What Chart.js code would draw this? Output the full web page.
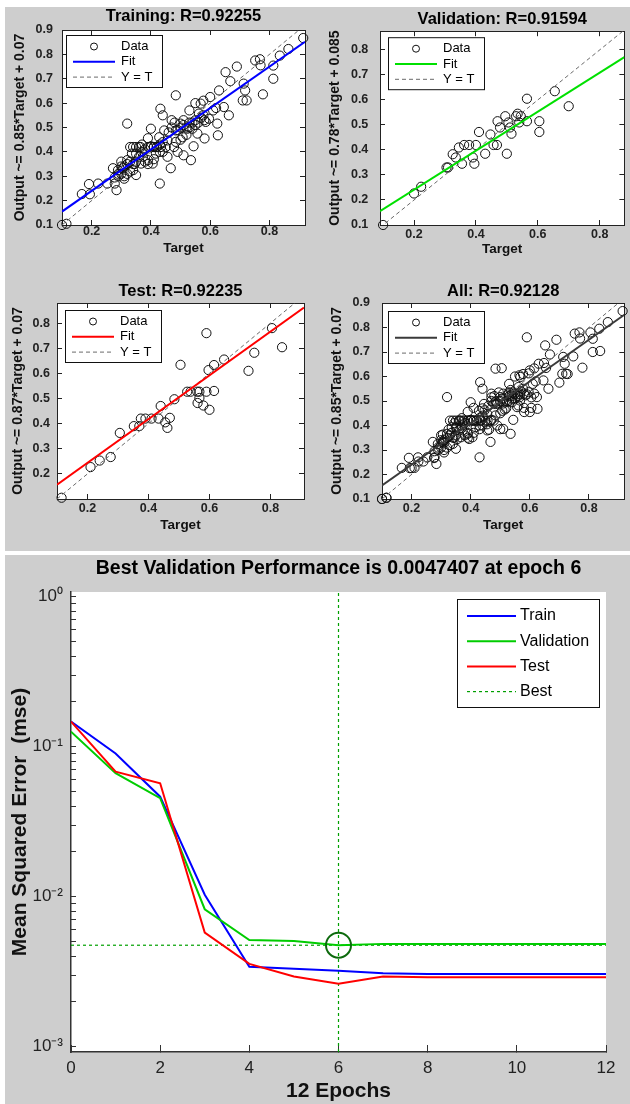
<!DOCTYPE html>
<html>
<head>
<meta charset="utf-8">
<script src="https://cdn.jsdelivr.net/npm/chart.js@4.4.1/dist/chart.umd.min.js"></script>
<style>
  html, body { margin: 0; padding: 0; background: #fff; }
  body { width: 630px; height: 1104px; position: relative; overflow: hidden; }
  .panel { position: absolute; background: #cecece; }
  canvas { position: absolute; }
</style>
</head>
<body>
<div class="panel" style="left:5px;top:7px;width:625px;height:544px"></div>
<div class="panel" style="left:5px;top:555px;width:625px;height:549px"></div>
<canvas id="cTrain" width="310" height="265" style="left:5px;top:7px"></canvas>
<canvas id="cVal" width="315" height="265" style="left:315px;top:7px"></canvas>
<canvas id="cTest" width="310" height="270" style="left:5px;top:276px"></canvas>
<canvas id="cAll" width="315" height="270" style="left:315px;top:276px"></canvas>
<canvas id="cPerf" width="625" height="549" style="left:5px;top:555px"></canvas>
<script>
// ---- regression data: [target, output] ----
const trainData = [
  [0.10,0.10],[0.115,0.105],[0.167,0.227],[0.194,0.226],[0.191,0.268],[0.222,0.27],[0.253,0.27],
  [0.278,0.27],[0.284,0.243],[0.278,0.295],[0.272,0.333],[0.289,0.325],[0.306,0.333],[0.29,0.30],
  [0.31,0.30],[0.32,0.31],[0.30,0.36],[0.32,0.366],[0.32,0.516],[0.33,0.42],[0.34,0.42],[0.336,0.393],
  [0.35,0.393],[0.345,0.35],[0.34,0.325],[0.35,0.305],[0.367,0.352],[0.365,0.42],[0.373,0.38],
  [0.39,0.366],[0.39,0.456],[0.40,0.495],[0.40,0.423],[0.406,0.352],[0.41,0.42],[0.42,0.42],
  [0.434,0.42],[0.417,0.393],[0.428,0.46],[0.432,0.577],[0.44,0.55],[0.43,0.27],[0.445,0.488],
  [0.456,0.447],[0.456,0.38],[0.467,0.333],[0.47,0.53],[0.484,0.488],[0.484,0.632],[0.484,0.441],
  [0.478,0.42],[0.49,0.40],[0.50,0.516],[0.507,0.46],[0.51,0.386],[0.523,0.495],[0.53,0.57],
  [0.535,0.366],[0.544,0.423],[0.54,0.495],[0.55,0.53],[0.557,0.475],[0.562,0.557],[0.568,0.598],
  [0.577,0.61],[0.577,0.55],[0.585,0.523],[0.581,0.455],[0.596,0.536],[0.60,0.625],[0.61,0.57],
  [0.62,0.58],[0.624,0.516],[0.626,0.468],[0.63,0.652],[0.646,0.584],[0.652,0.727],[0.663,0.55],
  [0.668,0.69],[0.69,0.75],[0.713,0.68],[0.718,0.652],[0.723,0.611],[0.71,0.611],[0.752,0.775],
  [0.768,0.78],[0.77,0.755],[0.778,0.636],[0.813,0.754],[0.813,0.70],[0.835,0.795],[0.864,0.822],
  [0.914,0.867],
  [0.30,0.31],[0.31,0.34],[0.32,0.35],[0.33,0.36],[0.34,0.35],[0.35,0.36],[0.36,0.38],[0.37,0.40],
  [0.38,0.41],[0.39,0.42],[0.40,0.42],[0.41,0.42],[0.42,0.42],[0.43,0.43],[0.44,0.44],[0.33,0.32],
  [0.31,0.29],[0.29,0.31],[0.30,0.34],[0.38,0.36],[0.39,0.35],[0.36,0.42],[0.37,0.43],[0.35,0.42],
  [0.44,0.40],[0.45,0.42],[0.47,0.50],[0.49,0.49],[0.50,0.50],[0.51,0.51],[0.52,0.50],[0.53,0.52],
  [0.54,0.52],[0.55,0.51],[0.56,0.52],[0.57,0.54],[0.58,0.53],[0.52,0.47],[0.50,0.45],[0.48,0.52],
  [0.46,0.48],[0.53,0.50],[0.51,0.53],[0.55,0.60],[0.41,0.37],[0.43,0.40]
];
const valData = [
  [0.10,0.10],[0.20,0.226],[0.223,0.253],[0.305,0.33],[0.31,0.33],[0.325,0.383],[0.335,0.37],
  [0.345,0.41],[0.355,0.345],[0.362,0.42],[0.378,0.42],[0.39,0.37],[0.395,0.345],[0.40,0.42],
  [0.41,0.472],[0.43,0.385],[0.447,0.462],[0.457,0.42],[0.468,0.42],[0.47,0.515],[0.478,0.49],
  [0.495,0.535],[0.50,0.385],[0.505,0.51],[0.51,0.49],[0.515,0.465],[0.53,0.535],[0.535,0.545],
  [0.54,0.51],[0.545,0.535],[0.565,0.605],[0.565,0.515],[0.605,0.515],[0.605,0.472],[0.655,0.635],
  [0.70,0.575]
];
const testData = [
  [0.115,0.105],[0.21,0.227],[0.24,0.253],[0.276,0.267],[0.306,0.363],[0.352,0.39],[0.37,0.39],
  [0.375,0.42],[0.39,0.42],[0.41,0.42],[0.433,0.42],[0.44,0.47],[0.455,0.405],[0.462,0.383],
  [0.47,0.423],[0.485,0.497],[0.505,0.634],[0.527,0.527],[0.538,0.527],[0.56,0.527],[0.567,0.527],
  [0.561,0.482],[0.567,0.502],[0.58,0.472],[0.59,0.527],[0.60,0.455],[0.59,0.76],[0.597,0.613],
  [0.615,0.633],[0.615,0.53],[0.648,0.655],[0.728,0.61],[0.747,0.682],[0.805,0.78],[0.838,0.704]
];
const allData = trainData.concat(valData, testData);

// fit = [slope, intercept]
const trainFit = [0.85, 0.07];
const valFit = [0.78, 0.085];
const testFit = [0.87, 0.07];
const allFit = [0.85, 0.07];

const regXTicks = [0.2, 0.4, 0.6, 0.8];
const yTicksTo09 = [0.1, 0.2, 0.3, 0.4, 0.5, 0.6, 0.7, 0.8, 0.9];
const yTicksTo08 = [0.1, 0.2, 0.3, 0.4, 0.5, 0.6, 0.7, 0.8];
const yTicksTest = [0.2, 0.3, 0.4, 0.5, 0.6, 0.7, 0.8];

// ---- performance data ----
const epochs = [0, 1, 2, 3, 4, 5, 6, 7, 8, 9, 10, 11, 12];
const trainPerf = [0.147, 0.090, 0.0464, 0.0103, 0.00341, 0.00330, 0.00320, 0.00308, 0.00305, 0.00305, 0.00305, 0.00305, 0.00305];
const valPerf = [0.126, 0.0665, 0.0453, 0.00824, 0.00514, 0.00505, 0.0047407, 0.00484, 0.00484, 0.00484, 0.00484, 0.00484, 0.00484];
const testPerf = [0.147, 0.0681, 0.0570, 0.00575, 0.00356, 0.00293, 0.00262, 0.00293, 0.00290, 0.00290, 0.00290, 0.00290, 0.00290];
const bestEpoch = 6;
const bestPerf = 0.0047407;
const epochTicks = [0, 2, 4, 6, 8, 10, 12];
const perfDecades = [0.001, 0.01, 0.1, 1];
const perfDecadeLabels = ['10⁻³', '10⁻²', '10⁻¹', '10⁰'];
const minorSteps = [2, 3, 4, 5, 6, 7, 8, 9];

const FONT = "'Liberation Sans', Arial, Helvetica, sans-serif";

// white plot area
const plotBg = {
  id: 'plotBg',
  beforeDraw(chart) {
    const { ctx, chartArea: a } = chart;
    ctx.save();
    ctx.fillStyle = '#fff';
    ctx.fillRect(a.left, a.top, a.right - a.left, a.bottom - a.top);
    ctx.restore();
  }
};

// matlab-like legend box inside the axes
const boxLegend = {
  id: 'boxLegend',
  afterDraw(chart, args, o) {
    const { ctx, chartArea: a } = chart;
    const left = o.right != null ? a.right - o.right - o.width : a.left + o.left;
    const top = a.top + o.top;
    const items = chart.data.datasets.filter(d => d.label && !d.noLegend);
    ctx.save();
    ctx.fillStyle = '#fff';
    ctx.fillRect(left, top, o.width, o.height);
    ctx.strokeStyle = '#111';
    ctx.lineWidth = 1;
    ctx.setLineDash([]);
    ctx.strokeRect(left + 0.5, top + 0.5, o.width, o.height);
    items.forEach((d, i) => {
      const y = top + o.firstRow + i * o.rowHeight;
      if (d.showLine) {
        ctx.strokeStyle = d.borderColor;
        ctx.lineWidth = d.borderWidth;
        ctx.setLineDash(d.borderDash || []);
        ctx.beginPath();
        ctx.moveTo(left + o.sampleFrom, y);
        ctx.lineTo(left + o.sampleTo, y);
        ctx.stroke();
      } else {
        ctx.strokeStyle = '#111';
        ctx.lineWidth = 1;
        ctx.setLineDash([]);
        ctx.beginPath();
        ctx.arc(left + (o.sampleFrom + o.sampleTo) / 2, y, o.markerRadius, 0, Math.PI * 2);
        ctx.stroke();
      }
      ctx.fillStyle = '#000';
      ctx.font = o.font;
      ctx.textBaseline = 'middle';
      ctx.fillText(d.label, left + o.textX, y);
    });
    ctx.restore();
  }
};

function boxAxis(pos, range, ticks) {
  return {
    type: 'linear', position: pos, min: range[0], max: range[1],
    afterBuildTicks: sc => { sc.ticks = ticks.map(v => ({ value: v })); },
    afterFit: sc => { if (pos === 'top') sc.height = 0; else sc.width = 0; },
    grid: { drawOnChartArea: false, tickLength: -5, tickColor: '#222' },
    border: { color: '#222', width: 1 },
    ticks: { display: false }
  };
}

function regression(id, s) {
  const pts = s.data.map(p => ({ x: p[0], y: p[1] }));
  const x0 = s.xRange[0], x1 = s.xRange[1];
  const lo = Math.min(s.xRange[0], s.yRange[0]), hi = Math.max(s.xRange[1], s.yRange[1]);
  const b = s.box;
  return new Chart(document.getElementById(id), {
    type: 'scatter',
    data: {
      datasets: [
        { label: 'Data', data: pts, pointStyle: 'circle', pointRadius: 4.6, pointBorderWidth: 1,
          pointBorderColor: '#111', pointBackgroundColor: 'rgba(0,0,0,0)', clip: false, order: 3 },
        { label: 'Fit', data: [{ x: x0, y: s.fit[0] * x0 + s.fit[1] }, { x: x1, y: s.fit[0] * x1 + s.fit[1] }],
          showLine: true, pointRadius: 0, borderColor: s.color, borderWidth: 2, order: 1 },
        { label: 'Y = T', data: [{ x: lo, y: lo }, { x: hi, y: hi }],
          showLine: true, pointRadius: 0, borderColor: '#6a6a6a', borderWidth: 1, borderDash: [4, 3], order: 2 }
      ]
    },
    options: {
      responsive: false, animation: false,
      events: [],
      layout: { padding: { left: 0, right: b.right, top: 0, bottom: 0 } },
      plugins: {
        legend: { display: false },
        tooltip: { enabled: false },
        title: { display: true, fullSize: false, text: s.title, color: '#000',
                 font: { family: FONT, size: 16.5, weight: 'bold' }, padding: { top: b.tt, bottom: b.tb } },
        boxLegend: { left: b.lgLeft, top: b.lgTop, width: 96, height: 52, firstRow: 11.5, rowHeight: 15.3,
                     sampleFrom: 7, sampleTo: 49, textX: 55, markerRadius: 3.5, font: '13px ' + FONT }
      },
      scales: {
        x: {
          type: 'linear', position: 'bottom', min: x0, max: x1,
          afterBuildTicks: sc => { sc.ticks = regXTicks.map(v => ({ value: v })); },
          afterFit: sc => { sc.height = b.xh; },
          grid: { drawOnChartArea: false, tickLength: -5, tickColor: '#222' },
          border: { color: '#222', width: 1 },
          ticks: { padding: b.xtp, color: '#222', maxRotation: 0, autoSkip: false,
                   font: { family: FONT, size: 12.5, weight: 'bold' }, callback: v => Number(v).toFixed(1) },
          title: { display: true, text: 'Target', color: '#111',
                   font: { family: FONT, size: 13.5, weight: 'bold' }, padding: { top: 0, bottom: b.xtb } }
        },
        y: {
          type: 'linear', position: 'left', min: s.yRange[0], max: s.yRange[1],
          afterBuildTicks: sc => { sc.ticks = s.yTicks.map(v => ({ value: v })); },
          afterFit: sc => { sc.width = b.yw; },
          grid: { drawOnChartArea: false, tickLength: -5, tickColor: '#222' },
          border: { color: '#222', width: 1 },
          ticks: { padding: b.ytp, color: '#222', autoSkip: false,
                   font: { family: FONT, size: 12.5, weight: 'bold' }, callback: v => Number(v).toFixed(1) },
          title: { display: true, text: s.yLabel, color: '#111',
                   font: { family: FONT, size: 14, weight: 'bold' }, padding: { top: b.ytt, bottom: 0 } }
        },
        x2: boxAxis('top', s.xRange, regXTicks),
        y2: boxAxis('right', s.yRange, s.yTicks)
      }
    },
    plugins: [plotBg, boxLegend]
  });
}

regression('cTrain', {
  title: 'Training: R=0.92255', data: trainData, fit: trainFit, color: '#0000ff',
  xRange: [0.1, 0.92], yRange: [0.1, 0.9], yTicks: yTicksTo09,
  yLabel: 'Output ~= 0.85*Target + 0.07',
  box: { right: 10, tt: 0, tb: 3.2, xh: 47, xtp: 4.5, xtb: 15.9, yw: 57, ytp: 14, ytt: 6.6, lgLeft: 4, lgTop: 5 }
});
regression('cVal', {
  title: 'Validation: R=0.91594', data: valData, fit: valFit, color: '#00e000',
  xRange: [0.09, 0.88], yRange: [0.1, 0.875], yTicks: yTicksTo08,
  yLabel: 'Output ~= 0.78*Target + 0.085',
  box: { right: 3, tt: 0, tb: 2.2, xh: 47, xtp: 7.5, xtb: 14.9, yw: 65, ytp: 16.7, ytt: 11.6, lgLeft: 8, lgTop: 6 }
});
regression('cTest', {
  title: 'Test: R=0.92235', data: testData, fit: testFit, color: '#ff0000',
  xRange: [0.1, 0.91], yRange: [0.1, 0.88], yTicks: yTicksTest,
  yLabel: 'Output ~= 0.87*Target + 0.07',
  box: { right: 11, tt: 6, tb: 1.2, xh: 47, xtp: 7.5, xtb: 12.9, yw: 52, ytp: 12, ytt: 4.6, lgLeft: 8, lgTop: 7 }
});
regression('cAll', {
  title: 'All: R=0.92128', data: allData, fit: allFit, color: '#3a3a3a',
  xRange: [0.1, 0.92], yRange: [0.1, 0.9], yTicks: yTicksTo09,
  yLabel: 'Output ~= 0.85*Target + 0.07',
  box: { right: 3, tt: 6, tb: 1.2, xh: 47, xtp: 7.5, xtb: 12.9, yw: 67, ytp: 17, ytt: 13.3, lgLeft: 6, lgTop: 8 }
});

// ---- performance plot ----
const perfMin = 0.00092, perfMax = 1.075;
const perfTicks = perfDecades.concat(perfDecades.slice(0, 3).flatMap(d => minorSteps.map(m => m * d)));
const series = (vals) => epochs.map((e, i) => ({ x: e, y: vals[i] }));

new Chart(document.getElementById('cPerf'), {
  type: 'scatter',
  data: {
    datasets: [
      { label: 'Train', data: series(trainPerf), showLine: true, pointRadius: 0, borderColor: '#0000ff', borderWidth: 2, order: 3 },
      { label: 'Validation', data: series(valPerf), showLine: true, pointRadius: 0, borderColor: '#00cc00', borderWidth: 2, order: 2 },
      { label: 'Test', data: series(testPerf), showLine: true, pointRadius: 0, borderColor: '#ff0000', borderWidth: 2, order: 1 },
      { label: 'Best', data: [{ x: bestEpoch, y: perfMin }, { x: bestEpoch, y: perfMax }], showLine: true, pointRadius: 0,
        borderColor: '#00a000', borderWidth: 1.2, borderDash: [3, 3], order: 5 },
      { label: 'Best', noLegend: true, data: [{ x: epochs[0], y: bestPerf }, { x: epochs[epochs.length - 1], y: bestPerf }],
        showLine: true, pointRadius: 0, borderColor: '#00a000', borderWidth: 1.2, borderDash: [3, 3], order: 4 },
      { label: 'Best point', noLegend: true, data: [{ x: bestEpoch, y: bestPerf }], pointRadius: 12.5, pointBorderWidth: 2,
        pointBorderColor: '#0d6a0d', pointBackgroundColor: 'rgba(0,0,0,0)', order: 0 }
    ]
  },
  options: {
    responsive: false, animation: false,
    events: [],
    layout: { padding: { left: 0, right: 24, top: 0, bottom: 0 } },
    plugins: {
      legend: { display: false },
      tooltip: { enabled: false },
      title: { display: true, fullSize: false, text: 'Best Validation Performance is 0.0047407 at epoch 6', color: '#000',
               font: { family: FONT, size: 19.5, weight: 'bold' }, padding: { top: 1.6, bottom: 12 } },
      boxLegend: { right: 7, top: 7, width: 142, height: 108, firstRow: 17, rowHeight: 25.2,
                   sampleFrom: 10, sampleTo: 59, textX: 63, markerRadius: 0, font: '16px ' + FONT }
    },
    scales: {
      x: {
        type: 'linear', position: 'bottom', min: epochs[0], max: epochs[epochs.length - 1],
        afterBuildTicks: sc => { sc.ticks = epochTicks.map(v => ({ value: v })); },
        afterFit: sc => { sc.height = 52; },
        grid: { drawOnChartArea: false, tickLength: -7, tickColor: '#333' },
        border: { color: '#333', width: 1.5 },
        ticks: { padding: 13.4, color: '#222', maxRotation: 0, autoSkip: false, font: { family: FONT, size: 17 } },
        title: { display: true, text: '12 Epochs', color: '#111', font: { family: FONT, size: 21, weight: 'bold' },
                 padding: { top: 0, bottom: 0 } }
      },
      y: {
        type: 'logarithmic', position: 'left', min: perfMin, max: perfMax,
        afterBuildTicks: sc => { sc.ticks = perfTicks.map(v => ({ value: v })); },
        afterFit: sc => { sc.width = 66; },
        grid: { drawOnChartArea: false, tickLength: -5, tickColor: '#333' },
        border: { color: '#333', width: 1.5 },
        ticks: {
          padding: 13, color: '#222', autoSkip: false, font: { family: FONT, size: 17 },
          callback: v => {
            const i = perfDecades.findIndex(d => Math.abs(Math.log10(v / d)) < 1e-6);
            return i >= 0 ? perfDecadeLabels[i] : '';
          }
        },
        title: { display: true, text: 'Mean Squared Error  (mse)', color: '#111',
                 font: { family: FONT, size: 21, weight: 'bold' }, padding: { top: 3, bottom: 0 } }
      }
    }
  },
  plugins: [plotBg, boxLegend]
});
</script>
</body>
</html>
